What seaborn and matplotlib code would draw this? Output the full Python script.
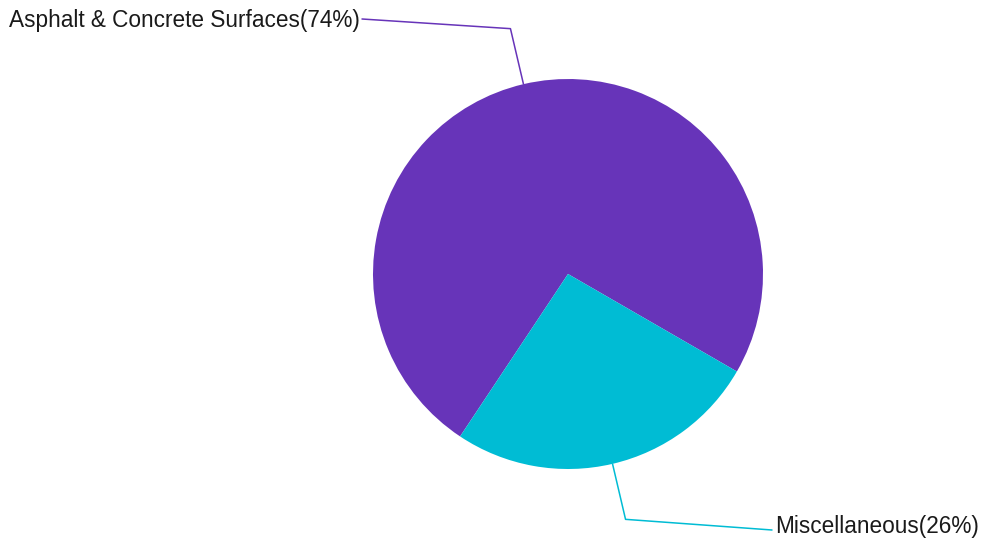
import numpy as np
import matplotlib
matplotlib.use("Agg")
import matplotlib.pyplot as plt
import seaborn as sns

categories = ["Asphalt & Concrete Surfaces", "Miscellaneous"]
shares = [74, 26]
colors = ["#6734B9", "#00BCD4"]

sns.set_theme(style="white")
plt.rcParams["font.family"] = ["Liberation Sans", "DejaVu Sans"]

W, H = 982, 545
fig = plt.figure(figsize=(W / 100, H / 100), dpi=100)
ax = fig.add_axes([0, 0, 1, 1])

cx, cy, r = 568, H - 274, 195
wedges, _ = ax.pie(shares, colors=colors, startangle=-30, counterclock=True,
                   center=(cx, cy), radius=r, frame=True,
                   wedgeprops=dict(linewidth=0))
ax.set_xlim(0, W)
ax.set_ylim(0, H)
ax.axis("off")

# label placement (text anchor, alignment)
label_pos = [((360, H - 20), "right"), ((775, H - 527), "left")]
line_end = [(362, H - 19), (772, H - 530)]

for w, name, val, col, (tpos, ha), lend in zip(wedges, categories, shares, colors, label_pos, line_end):
    mid = np.deg2rad((w.theta1 + w.theta2) / 2)
    p0 = (cx + r * np.cos(mid), cy + r * np.sin(mid))
    p1 = (cx + (r + 57) * np.cos(mid), cy + (r + 57) * np.sin(mid))
    ax.plot([p0[0], p1[0], lend[0]], [p0[1], p1[1], lend[1]], color=col, lw=1.1)
    ax.text(tpos[0], tpos[1], f"{name}({val}%)", ha=ha, va="center",
            fontsize=16.3, color="#1a1a1a")

fig.savefig("out.png", dpi=100, facecolor="white")
